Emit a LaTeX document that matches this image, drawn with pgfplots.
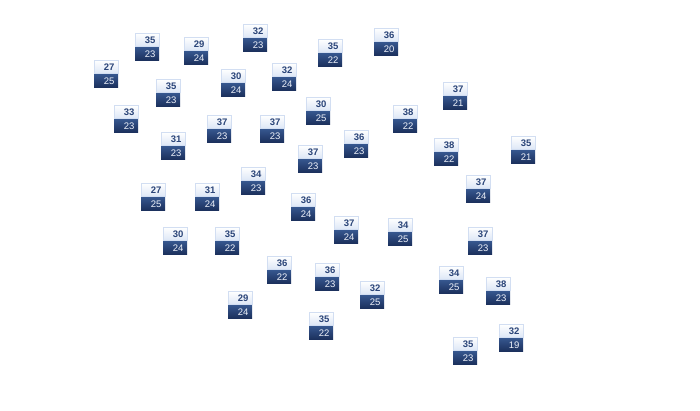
\documentclass[border=0pt]{standalone}
\usepackage{pgfplots}
\pgfplotsset{compat=1.18}
\usepackage{pgfplotstable}
\usepackage{fontspec}
\setmainfont{Liberation Sans}
\definecolor{toptxt}{HTML}{2A4478}
\definecolor{topfillA}{HTML}{FFFFFF}
\definecolor{topfillB}{HTML}{DCE6F6}
\definecolor{topborder}{HTML}{D2DEF2}
\definecolor{botfillA}{HTML}{36568E}
\definecolor{botfillB}{HTML}{1B2F5B}
\definecolor{bottxt}{HTML}{EEF2FA}
\pgfplotstableread{
x y top bot
147 47 35 23
255 38 32 23
196 51 29 24
330 53 35 22
386 42 36 20
106 74 27 25
168 93 35 23
233 83 30 24
284 77 32 24
455 96 37 21
126 119 33 23
219 129 37 23
272 129 37 23
318 111 30 25
405 119 38 22
173 146 31 23
356 144 36 23
310 159 37 23
446 152 38 22
523 150 35 21
253 181 34 23
153 197 27 25
207 197 31 24
303 207 36 24
478 189 37 24
346 230 37 24
400 232 34 25
175 241 30 24
227 241 35 22
480 241 37 23
279 270 36 22
327 277 36 23
451 280 34 25
372 295 32 25
498 291 38 23
240 305 29 24
321 326 35 22
511 338 32 19
465 351 35 23
}\boxdata
\begin{document}
\begin{tikzpicture}
\begin{axis}[
  hide axis, scale only axis,
  width=700bp, height=410bp,
  xmin=0, xmax=700, ymin=0, ymax=410,
  y dir=reverse, clip=false,
]
\addplot[draw=none, mark=none,
  nodes near coords={\pgfplotspointmeta},
  point meta=explicit symbolic,
  every node near coord/.style={anchor=south, inner xsep=3.5bp, inner ysep=0pt,
    text width=17bp, align=right, minimum height=13.5bp,
    top color=topfillA, bottom color=topfillB, draw=topborder, line width=0.6bp,
    font=\fontsize{9.5bp}{10bp}\selectfont\bfseries, text=toptxt},
] table[x=x, y=y, meta=top] {\boxdata};
\addplot[draw=none, mark=none,
  nodes near coords={\pgfplotspointmeta},
  point meta=explicit symbolic,
  every node near coord/.style={anchor=north, inner xsep=3.5bp, inner ysep=0pt,
    text width=17bp, align=right, minimum height=13.5bp,
    top color=botfillA, bottom color=botfillB,
    font=\fontsize{9.5bp}{10bp}\selectfont, text=bottxt},
] table[x=x, y=y, meta=bot] {\boxdata};
\path (rel axis cs:0,0) rectangle (rel axis cs:1,1);
\end{axis}
\end{tikzpicture}
\end{document}
